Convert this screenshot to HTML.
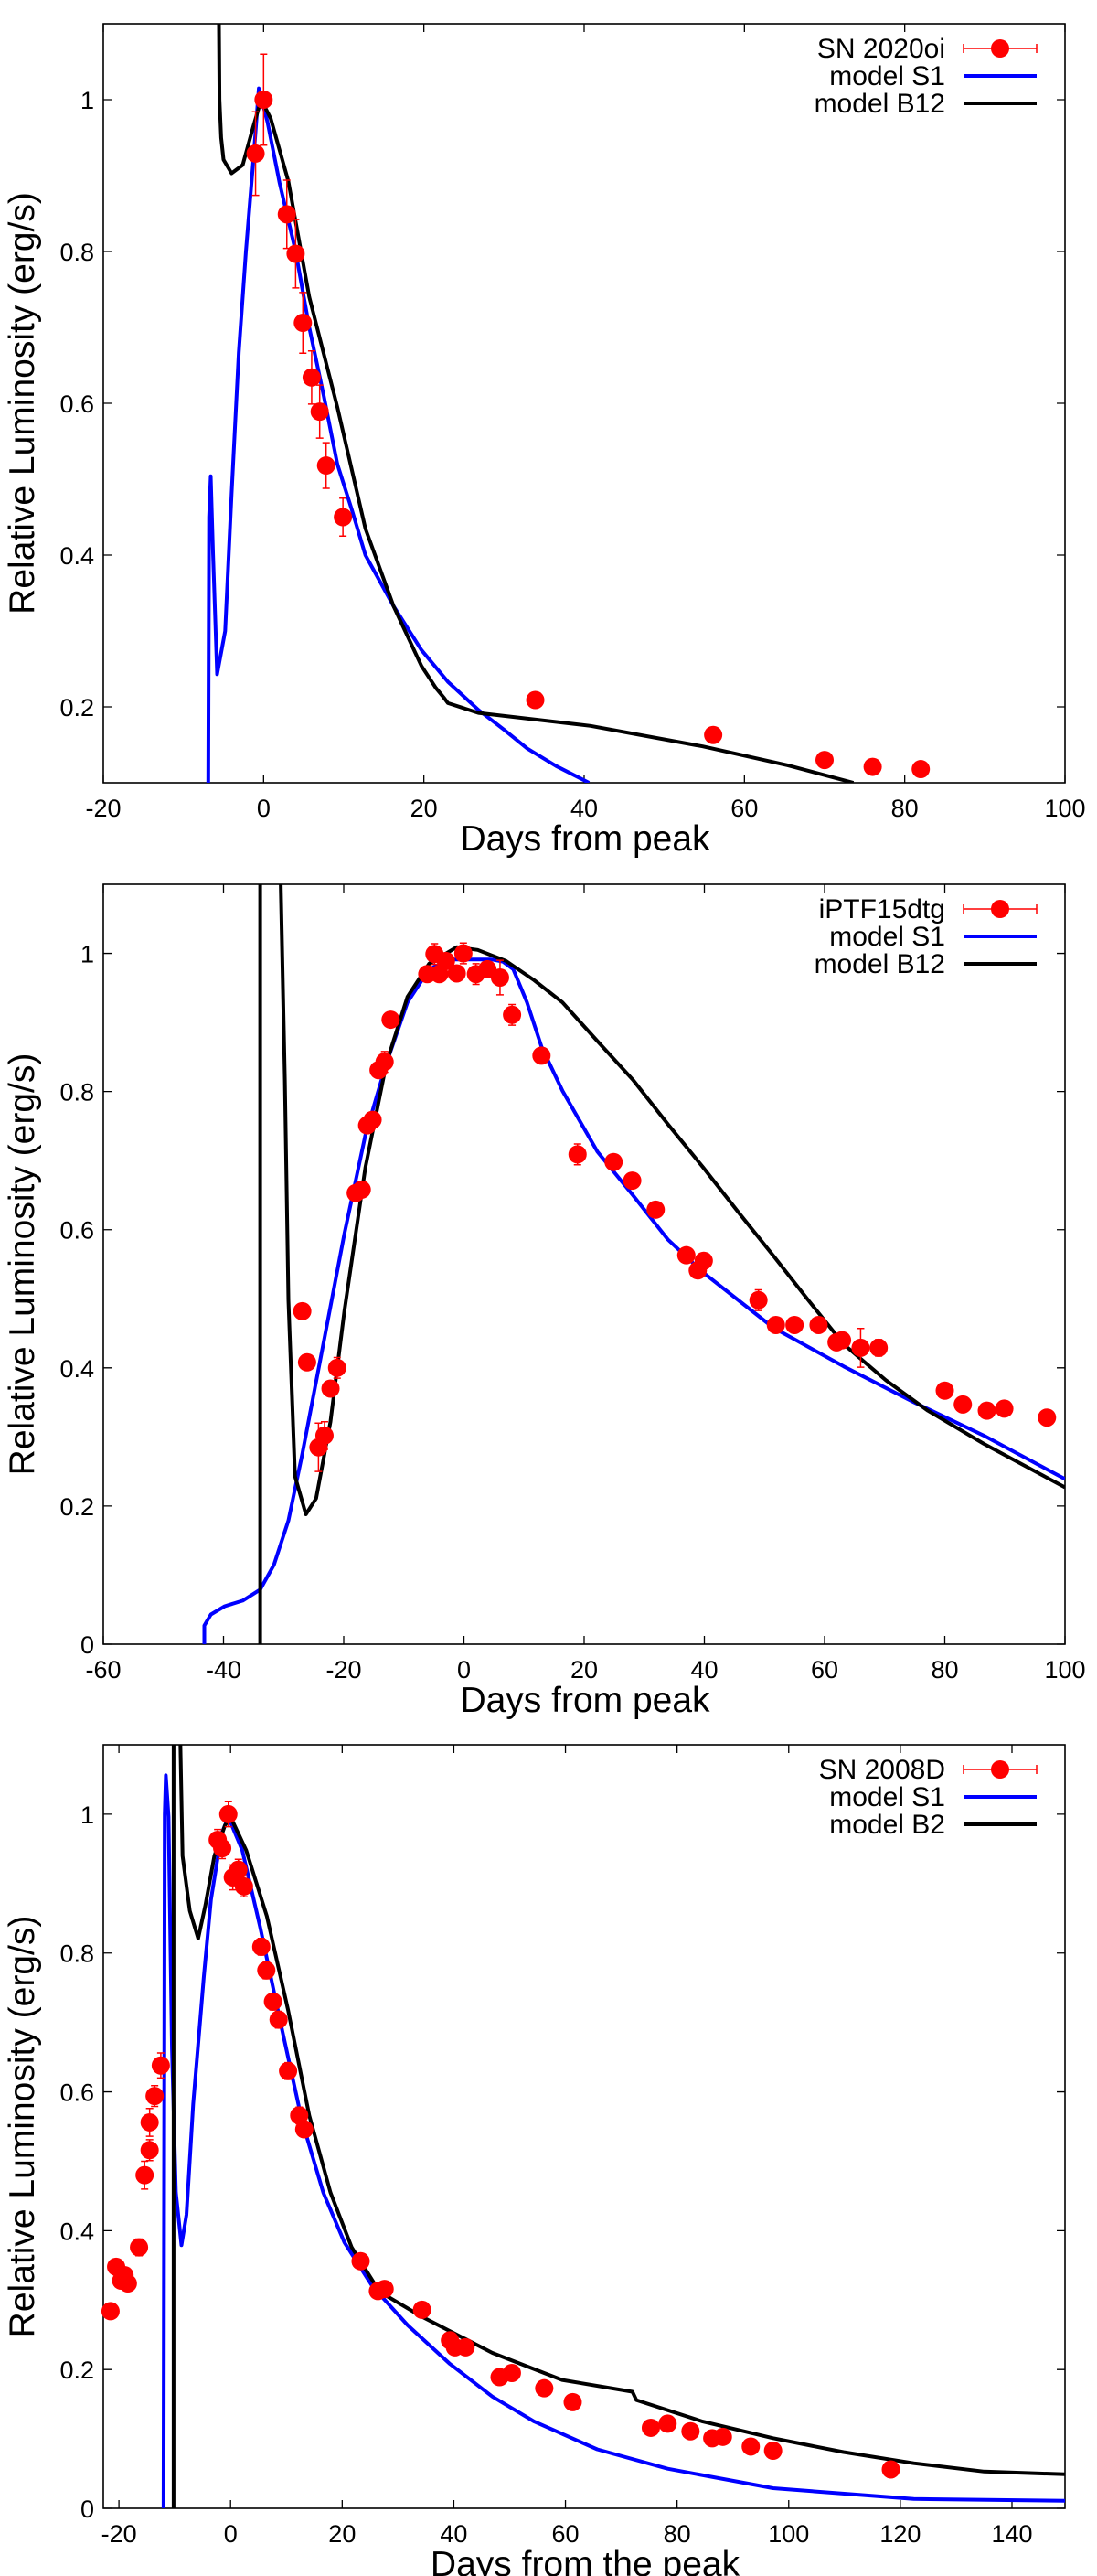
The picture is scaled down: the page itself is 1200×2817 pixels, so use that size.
<!DOCTYPE html>
<html><head><meta charset="utf-8"><style>
html,body{margin:0;padding:0;background:#fff;}
svg{display:block;font-family:"Liberation Sans",sans-serif;}
</style></head><body>
<svg id="fig" width="1200" height="2817" viewBox="0 0 1200 2817" xmlns="http://www.w3.org/2000/svg"></svg>
<script>
// ---------- Panel 1 data (SN 2020oi) ----------
const p1ObsX = [-1, 0, 2.9, 4.0, 4.9, 6.0, 7.0, 7.8, 9.9, 33.9, 56.1, 70, 76, 82];
const p1ObsY = [0.929, 1.0, 0.849, 0.797, 0.706, 0.634, 0.589, 0.518, 0.450, 0.209, 0.163, 0.130, 0.121, 0.118];
const p1ObsErr = [0.055, 0.06, 0.045, 0.045, 0.04, 0.035, 0.035, 0.03, 0.025, 0.01, 0.01, 0.005, 0.005, 0.005];
const p1S1X = [-6.9, -6.8, -6.6, -6.3, -5.8, -4.8, -4.0, -3.1, -2.2, -1.2, -0.6, 0.5, 2.0, 4.0, 5.7, 7.5, 9.2, 11.0, 12.7, 16.2, 19.7, 23.0, 26.8, 30.0, 32.9, 36.5, 40.6];
const p1S1Y = [0.1, 0.45, 0.504, 0.40, 0.243, 0.30, 0.48, 0.667, 0.80, 0.93, 1.015, 0.97, 0.89, 0.80, 0.70, 0.61, 0.52, 0.46, 0.40, 0.333, 0.275, 0.233, 0.196, 0.170, 0.145, 0.122, 0.1];
const p1B12X = [-5.6, -5.5, -5.3, -5.0, -4.0, -2.6, -1.3, -0.3, 0.9, 3.1, 5.7, 9.2, 12.7, 16.2, 19.7, 21.5, 22.5, 23.0, 26.8, 40.8, 54.8, 65.4, 73.6];
const p1B12Y = [1.15, 1.0, 0.95, 0.921, 0.903, 0.914, 0.964, 1.0, 0.975, 0.892, 0.74, 0.595, 0.435, 0.333, 0.254, 0.225, 0.212, 0.205, 0.192, 0.175, 0.148, 0.123, 0.1];
// ---------- Panel 2 data (iPTF15dtg) ----------
const p2ObsX = [-26.9,-26.1,-24.2,-23.2,-22.2,-21.1,-18.0,-17.0,-16.1,-15.2,-14.2,-13.2,-12.2,-6.1,-4.9,-4.1,-3.0,-1.2,-0.1,2.0,3.9,6.0,8.0,12.9,18.9,24.9,28.0,31.9,37.0,38.9,39.9,49.0,51.9,55.0,59.0,62.0,62.9,66.0,69.0,80.0,83.0,87.0,89.9,97.0];
const p2ObsY = [0.482,0.408,0.285,0.302,0.370,0.400,0.653,0.658,0.751,0.759,0.831,0.843,0.904,0.970,0.999,0.970,0.989,0.971,1.0,0.970,0.977,0.965,0.911,0.852,0.709,0.698,0.671,0.629,0.563,0.541,0.555,0.498,0.462,0.462,0.462,0.437,0.440,0.429,0.429,0.367,0.347,0.338,0.341,0.328];
const p2ObsErr = [0.005,0.005,0.035,0.02,0.01,0.015,0.01,0.01,0.005,0.005,0.01,0.015,0.005,0.01,0.015,0.01,0.01,0.01,0.015,0.015,0.01,0.025,0.015,0.005,0.015,0.005,0.005,0.005,0.005,0.005,0.005,0.015,0.005,0.005,0.005,0.005,0.005,0.028,0.012,0.005,0.005,0.005,0.005,0.005];
const p2S1X = [-43.2,-43.2,-42.1,-39.8,-36.8,-33.9,-31.6,-29.2,-26.9,-23.4,-19.9,-16.4,-12.9,-9.4,-5.8,-2.3,4.7,6.5,8.2,10.5,12.9,16.4,22.2,28.1,33.9,39.8,51.5,63.2,74.9,86.5,100];
const p2S1Y = [0,0.027,0.043,0.055,0.063,0.079,0.115,0.179,0.275,0.434,0.594,0.737,0.841,0.929,0.977,0.991,0.991,0.988,0.977,0.929,0.865,0.801,0.713,0.650,0.586,0.538,0.458,0.402,0.350,0.302,0.239];
const p2B12X = [-33.9,-33.9,null,-30.6,-29.8,-29.2,-28.1,-26.3,-24.6,-22.2,-19.9,-16.4,-12.9,-9.4,-5.8,-1.2,2.3,7.0,11.7,16.4,22.2,28.1,33.9,39.8,45.6,51.5,57.3,63.2,70.2,77.2,86.5,100];
const p2B12Y = [0,1.15,null,1.15,0.817,0.498,0.243,0.188,0.211,0.322,0.482,0.690,0.841,0.937,0.985,1.009,1.005,0.989,0.961,0.929,0.873,0.817,0.753,0.690,0.626,0.562,0.498,0.434,0.382,0.338,0.290,0.227];
// ---------- Panel 3 data (SN 2008D) ----------
const p3ObsX = [-21.5,-20.5,-19.6,-19.0,-18.4,-16.4,-15.4,-14.5,-14.5,-13.6,-12.5,-2.3,-1.5,-0.4,0.4,1.4,2.4,5.5,6.4,7.6,8.6,10.3,12.3,13.2,23.3,26.4,27.6,34.3,39.3,40.2,42.1,48.2,50.4,56.2,61.3,75.3,78.3,82.4,86.3,88.2,93.2,97.2,118.3];
const p3ObsY = [0.284,0.348,0.328,0.336,0.324,0.376,0.480,0.516,0.556,0.594,0.638,0.963,0.951,1.0,0.909,0.920,0.896,0.809,0.775,0.730,0.704,0.630,0.566,0.546,0.356,0.313,0.316,0.286,0.242,0.232,0.232,0.189,0.195,0.173,0.153,0.116,0.122,0.111,0.101,0.103,0.089,0.083,0.056];
const p3ObsErr = [0.005,0.005,0.005,0.005,0.005,0.012,0.02,0.015,0.02,0.015,0.018,0.015,0.015,0.018,0.018,0.015,0.015,0.012,0.012,0.012,0.012,0.012,0.012,0.01,0.008,0.005,0.005,0.005,0.008,0.005,0.005,0.01,0.008,0.005,0.005,0.005,0.005,0.005,0.005,0.005,0.005,0.005,0.005];
const p3S1X = [-12.0,-11.8,-11.6,-11.1,-10.5,-9.8,-8.8,-7.9,-6.7,-4.8,-3.5,-1.6,-0.4,2.1,5.3,9.1,12.8,16.6,20.4,25.4,31.7,39.3,46.9,54.4,65.7,78.3,97.2,122.4,149.5];
const p3S1Y = [0,1.0,1.056,0.996,0.662,0.455,0.379,0.423,0.582,0.765,0.877,0.972,0.996,0.948,0.837,0.694,0.558,0.455,0.383,0.320,0.264,0.208,0.161,0.125,0.085,0.057,0.029,0.0135,0.011];
const p3B2X = [-10.2,-10.2,null,-9.1,-8.6,-7.3,-5.8,-4.5,-2.9,-1.0,0,2.8,6.5,10.3,14.1,17.9,21.7,26.7,34.3,46.9,59.4,72.0,72.7,84.6,97.2,109.8,122.4,135,149.5];
const p3B2Y = [0,1.15,null,1.15,0.940,0.861,0.821,0.869,0.940,0.984,0.996,0.948,0.853,0.718,0.566,0.455,0.376,0.312,0.276,0.224,0.185,0.168,0.156,0.125,0.101,0.081,0.065,0.053,0.049];
// tick labels
const p1XTicks = [-20,0,20,40,60,80,100];
const p1YTicks = [0.2,0.4,0.6,0.8,1];
const p2XTicks = [-60,-40,-20,0,20,40,60,80,100];
const p2YTicks = [0,0.2,0.4,0.6,0.8,1];
const p3XTicks = [-20,0,20,40,60,80,100,120,140];
const p3YTicks = [0,0.2,0.4,0.6,0.8,1];

const NS='http://www.w3.org/2000/svg';
const svg=document.getElementById('fig');
function mk(tag,parent,attrs){const e=document.createElementNS(NS,tag);for(const k in attrs)e.setAttribute(k,attrs[k]);parent.appendChild(e);return e;}

function panel(cfg){
  const L=113,R=1165,T=cfg.top,B=cfg.bottom;
  const sx=v=>L+(v-cfg.xmin)/(cfg.xmax-cfg.xmin)*(R-L);
  const sy=v=>B-(v-cfg.ymin)/(cfg.ymax-cfg.ymin)*(B-T);
  const g=mk('g',svg,{});
  
  
  const cid='clip'+cfg.name;
  const defs=mk('defs',g,{});
  const cp=mk('clipPath',defs,{id:cid});
  mk('rect',cp,{x:L,y:T,width:R-L,height:B-T});
  // ticks
  cfg.xticks.forEach(t=>{
    const x=sx(t);
    const tk=mk('path',g,{d:`M${x},${B}v-9M${x},${T}v9`,stroke:'#000','stroke-width':1.3});
    
    
    const lb=mk('text',g,{x:x,y:B+37,'font-size':27,'text-anchor':'middle',fill:'#000'});
    lb.textContent=String(t);
    
    
  });
  cfg.yticks.forEach(t=>{
    const y=sy(t);
    const tk=mk('path',g,{d:`M${L},${y}h9M${R},${y}h-9`,stroke:'#000','stroke-width':1.3});
    
    
    const lb=mk('text',g,{x:103,y:y+10,'font-size':27,'text-anchor':'end',fill:'#000'});
    lb.textContent=String(t);
    
    
  });
  const frame=mk('rect',g,{x:L,y:T,width:R-L,height:B-T,fill:'none',stroke:'#000','stroke-width':1.6});
  
  
  // curves
  function curve(xs,ys,color,name){
    let d='',pen=false;
    for(let i=0;i<xs.length;i++){
      if(xs[i]===null){pen=false;continue;}
      d+=(pen?'L':'M')+sx(xs[i]).toFixed(1)+','+sy(ys[i]).toFixed(1);pen=true;
    }
    const p=mk('path',g,{d:d,fill:'none',stroke:color,'stroke-width':4,'stroke-linejoin':'round','clip-path':`url(#${cid})`});
    
    
  }
  curve(cfg.s1x,cfg.s1y,'#0000ff','model-s1-curve');
  curve(cfg.bx,cfg.by,'#000000','model-'+cfg.bname.toLowerCase()+'-curve');
  // observations
  cfg.ox.forEach((xv,i)=>{
    const x=sx(xv),y=sy(cfg.oy[i]),e=(B-T)/(cfg.ymax-cfg.ymin)*cfg.oe[i];
    const eb=mk('path',g,{d:`M${x},${y-e}V${y+e}M${x-4},${y-e}h8M${x-4},${y+e}h8`,stroke:'#ff0000','stroke-width':1.5});
    
    
    const c=mk('circle',g,{cx:x,cy:y,r:10,fill:'#ff0000'});
    
    
  });
  // legend
  const lg=mk('g',g,{});
  
  
  const rows=[cfg.obsName,'model S1','model '+cfg.bname];
  rows.forEach((r,i)=>{
    const y=T+27+i*30;
    const t=mk('text',lg,{x:1034,y:y+10,'font-size':30,'text-anchor':'end',fill:'#000'});
    t.textContent=r;
    
    
  });
  let y0=T+27;
  const le=mk('path',lg,{d:`M1054,${y0}H1134M1054,${y0-5}v10M1134,${y0-5}v10`,stroke:'#ff0000','stroke-width':1.5});
  
  
  const lc=mk('circle',lg,{cx:1094,cy:y0,r:10,fill:'#ff0000'});
  
  
  const l1=mk('path',lg,{d:`M1054,${T+57}H1134`,stroke:'#0000ff','stroke-width':4});
  
  
  const l2=mk('path',lg,{d:`M1054,${T+87}H1134`,stroke:'#000','stroke-width':4});
  
  
  // axis titles
  const xt=mk('text',g,{x:640,y:B+74,'font-size':39,'text-anchor':'middle',fill:'#000'});
  xt.textContent=cfg.xtitle;
  
  
  const cy=(T+B)/2;
  const yt=mk('text',g,{x:0,y:0,'font-size':39,'text-anchor':'middle',fill:'#000',transform:`translate(37,${cy}) rotate(-90)`});
  yt.textContent='Relative Luminosity (erg/s)';
  
  
}

panel({name:'panel-sn2020oi',top:26,bottom:856,xmin:-20,xmax:100,ymin:0.1,ymax:1.1,xticks:p1XTicks,yticks:p1YTicks,
  ox:p1ObsX,oy:p1ObsY,oe:p1ObsErr,s1x:p1S1X,s1y:p1S1Y,bx:p1B12X,by:p1B12Y,bname:'B12',obsName:'SN 2020oi',xtitle:'Days from peak'});
panel({name:'panel-iptf15dtg',top:967,bottom:1798,xmin:-60,xmax:100,ymin:0,ymax:1.1,xticks:p2XTicks,yticks:p2YTicks,
  ox:p2ObsX,oy:p2ObsY,oe:p2ObsErr,s1x:p2S1X,s1y:p2S1Y,bx:p2B12X,by:p2B12Y,bname:'B12',obsName:'iPTF15dtg',xtitle:'Days from peak'});
panel({name:'panel-sn2008d',top:1908,bottom:2743,xmin:-22.8,xmax:149.5,ymin:0,ymax:1.1,xticks:p3XTicks,yticks:p3YTicks,
  ox:p3ObsX,oy:p3ObsY,oe:p3ObsErr,s1x:p3S1X,s1y:p3S1Y,bx:p3B2X,by:p3B2Y,bname:'B2',obsName:'SN 2008D',xtitle:'Days from the peak'});
</script>
</body></html>
